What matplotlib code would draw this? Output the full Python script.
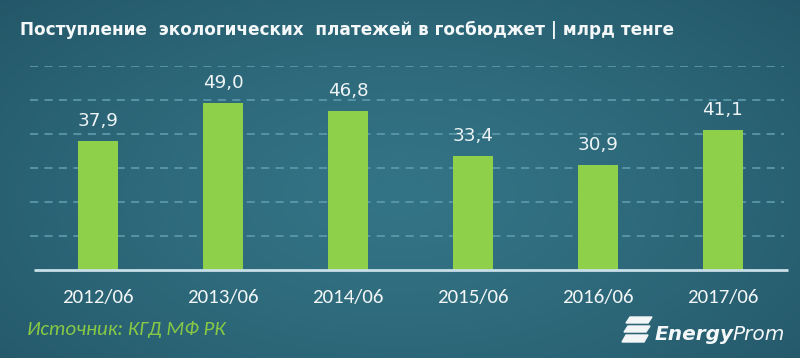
import numpy as np
import matplotlib
matplotlib.use("Agg")
import matplotlib.pyplot as plt
from matplotlib.patches import Polygon

# data
periods = ["2012/06", "2013/06", "2014/06", "2015/06", "2016/06", "2017/06"]
payments = [37.9, 49.0, 46.8, 33.4, 30.9, 41.1]
value_labels = ["37,9", "49,0", "46,8", "33,4", "30,9", "41,1"]

title = "Поступление  экологических  платежей в госбюджет | млрд тенге"
source = "Источник: КГД МФ РК"

narrow = ["Carlito", "Liberation Sans", "DejaVu Sans"]

W, H = 800, 358
fig = plt.figure(figsize=(W / 100, H / 100), dpi=100)

# background gradient, a bit lighter in the middle
bg = fig.add_axes([0, 0, 1, 1])
bg.set_axis_off()
yy, xx = np.mgrid[0:1:180j, 0:1:400j]
d = np.sqrt(((xx - 0.5) / 0.7) ** 2 + ((yy - 0.45) / 0.85) ** 2)
d = np.clip(d, 0, 1) ** 1.3
c_in = np.array([0x33, 0x74, 0x86]) / 255
c_out = np.array([0x23, 0x56, 0x67]) / 255
img = c_in[None, None, :] * (1 - d[..., None]) + c_out[None, None, :] * d[..., None]
bg.imshow(img, extent=[0, 1, 0, 1], aspect="auto", origin="lower")
bg.set_xlim(0, 1)
bg.set_ylim(0, 1)

# main axes
left, right = 30 / W, 784 / W
bottom, top = 1 - 269.5 / H, 1 - 65.7 / H
ax = fig.add_axes([left, bottom, right - left, top - bottom])
ax.patch.set_alpha(0)
x = np.arange(len(periods))
ax.set_xlim(-0.545, 5.49)
ax.set_ylim(0, 60)

for g in [10, 20, 30, 40, 50, 60]:
    ax.axhline(g, color="#5a97a8", lw=1.3, ls=(0, (4.5, 3.5)), zorder=1)

ax.bar(x, payments, width=0.32, color="#8fd04b", zorder=2)
ax.plot([-0.51, 5.52], [0, 0], color="#c9dfe8", lw=2, zorder=3, clip_on=False,
        solid_capstyle="butt")

for xi, v, lab in zip(x, payments, value_labels):
    ax.annotate(lab, (xi, v), xytext=(0, 10.5), textcoords="offset points",
                ha="center", va="baseline", color="#eef4f6", fontsize=13.2,
                family="DejaVu Sans")

ax.set_xticks(x)
ax.set_xticklabels(periods, fontsize=15, color="#f2f6f7", family=narrow)
ax.tick_params(axis="x", length=0, pad=14)
ax.set_yticks([])
for s in ax.spines.values():
    s.set_visible(False)

fig.text(20 / W, 1 - 30 / H, title, color="#f4f8f9", fontsize=12.2,
         fontweight="bold", family="DejaVu Sans", va="center", ha="left")
fig.text(27 / W, 1 - 329 / H, source, color="#86c846", fontsize=15,
         style="italic", family=narrow, va="center", ha="left")

# logo: stacked slanted stripes + wordmark
for i, (y0, y1) in enumerate([(317, 323), (326, 332), (335, 342)]):
    x0 = 626 - i * 2
    pts = [(x0 + 4, y0), (x0 + 26, y0), (x0 + 22, y1), (x0, y1)]
    fig.patches.append(Polygon([(px / W, 1 - py / H) for px, py in pts],
                               closed=True, transform=fig.transFigure,
                               color="#f2f6f7"))
fig.text(655 / W, 1 - 334 / H, "Energy", color="#f4f8f9", fontsize=14.5,
         fontweight="bold", style="italic", family="DejaVu Sans",
         va="center", ha="left")
fig.text(732 / W, 1 - 334 / H, "Prom", color="#f4f8f9", fontsize=14.5,
         style="italic", family="DejaVu Sans", va="center", ha="left")

fig.savefig("out.png", dpi=100)
